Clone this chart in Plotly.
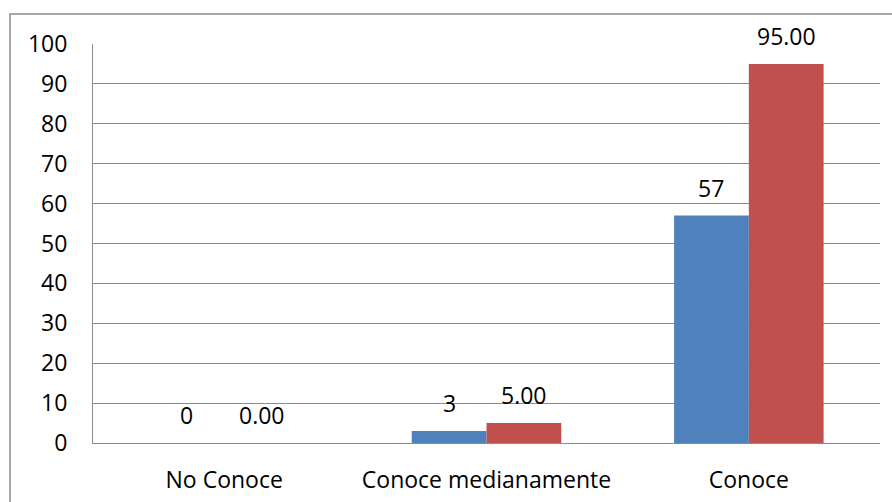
import plotly.graph_objects as go

categories = ["No Conoce", "Conoce medianamente", "Conoce"]
series_a = [0, 3, 57]
series_b = [0.00, 5.00, 95.00]
labels_a = ["0", "3", "57"]
labels_b = ["0.00", "5.00", "95.00"]
y_ticks = [0, 10, 20, 30, 40, 50, 60, 70, 80, 90, 100]

W, H = 892, 502
L, R, T, B = 93, 12, 44, 59
FONT = "Open Sans"
FS = 23

fig = go.Figure()
fig.add_trace(go.Bar(x=categories, y=series_a, marker_color="#4F81BD",
                     marker_line_width=0, showlegend=False))
fig.add_trace(go.Bar(x=categories, y=series_b, marker_color="#C0504D",
                     marker_line_width=0, showlegend=False))

plot_w = W - L - R
bargap = 0.43
bar_px = plot_w / len(categories) * (1 - bargap) / 2
for cat, v, t in zip(categories, series_a, labels_a):
    fig.add_annotation(x=cat, y=v, text=t, showarrow=False, xshift=-bar_px / 2,
                       yanchor="bottom", yshift=10, font=dict(family=FONT, size=FS, color="black"))
for cat, v, t in zip(categories, series_b, labels_b):
    fig.add_annotation(x=cat, y=v, text=t, showarrow=False, xshift=bar_px / 2,
                       yanchor="bottom", yshift=10, font=dict(family=FONT, size=FS, color="black"))

# outer chart border
fig.add_shape(type="rect", xref="paper", yref="paper",
              x0=(10 - L) / plot_w, x1=(W + 5 - L) / plot_w,
              y0=-(B + 10) / (H - T - B), y1=1 + (T - 14) / (H - T - B),
              line=dict(color="#8C8C8C", width=1.5), fillcolor="rgba(0,0,0,0)", layer="below")

fig.update_layout(
    width=W, height=H,
    margin=dict(l=L, r=R, t=T, b=B, autoexpand=False),
    paper_bgcolor="white", plot_bgcolor="white",
    barmode="group", bargap=bargap, bargroupgap=0,
    font=dict(family=FONT, size=FS, color="black"),
)
fig.update_yaxes(range=[0, 100], tickvals=y_ticks, showgrid=True, gridcolor="#8C8C8C", gridwidth=1,
                 showline=True, linecolor="#8C8C8C", linewidth=1, zeroline=False, automargin=False,
                 ticks="", ticklabelstandoff=20, tickfont=dict(family=FONT, size=FS, color="black"))
fig.update_xaxes(showline=True, linecolor="#8C8C8C", linewidth=1, ticks="", automargin=False,
                 ticklabelstandoff=16, tickfont=dict(family=FONT, size=FS, color="black"))

fig.write_html("out.html", config={"displayModeBar": False},
               post_script="document.body.style.margin='0';document.body.style.overflow='hidden';")
